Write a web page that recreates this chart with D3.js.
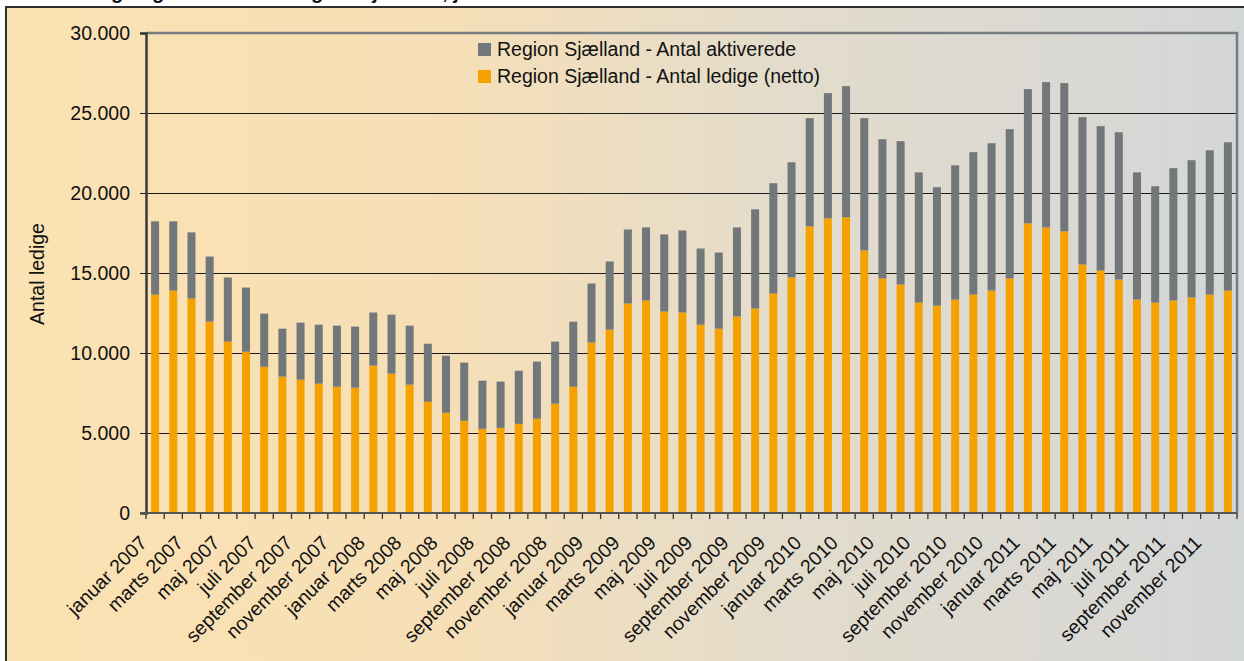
<!DOCTYPE html>
<html>
<head>
<meta charset="utf-8">
<script src="https://cdn.jsdelivr.net/npm/d3@7"></script>
<style>
body { margin: 0; background: #fff; }
text { font-family: "Liberation Sans", Arial, sans-serif; fill: #111; }
</style>
</head>
<body>
<svg id="chart" width="1244" height="661"></svg>
<script>
// data
var months = ["januar", "februar", "marts", "april", "maj", "juni", "juli", "august", "september", "oktober", "november", "december"];
var years = [2007, 2008, 2009, 2010, 2011];

var ledige = [13650, 13900, 13400, 11960, 10710, 10080, 9140, 8520, 8330, 8080, 7890, 7830,
              9210, 8710, 8020, 6950, 6260, 5760, 5260, 5320, 5570, 5890, 6830, 7890,
              10650, 11460, 13090, 13280, 12590, 12530, 11770, 11520, 12280, 12780, 13720, 14720,
              17910, 18410, 18480, 16410, 14660, 14280, 13150, 12960, 13340, 13650, 13900, 14660,
              18100, 17850, 17600, 15530, 15160, 14590, 13340, 13150, 13280, 13470, 13650, 13900];
var aktiverede = [4580, 4330, 4140, 4070, 4010, 4010, 3320, 3000, 3570, 3690, 3820, 3820,
                  3320, 3690, 3690, 3630, 3570, 3640, 3010, 2890, 3320, 3570, 3880, 4070,
                  3690, 4260, 4630, 4570, 4820, 5130, 4760, 4760, 5570, 6200, 6890, 7200,
                  6770, 7830, 8200, 8270, 8700, 8960, 8140, 7400, 8390, 8900, 9210, 9330,
                  8390, 9080, 9270, 9210, 9020, 9210, 7950, 7270, 8270, 8580, 9020, 9270];

var yTicks = [0, 5000, 10000, 15000, 20000, 25000, 30000];
var seriesNames = ["Region Sjælland - Antal aktiverede", "Region Sjælland - Antal ledige (netto)"];
var colors = ["#72777a", "#f5a200"];
var yTitle = "Antal ledige";
var title = "Antal ledige og aktiverede i Region Sjælland, januar 2007 - december 2011";

var categories = [];
years.forEach(function(y) {
    months.forEach(function(m) { categories.push(m + " " + y); });
});

var rows = categories.map(function(c, i) {
    return { cat: c, ledige: ledige[i], aktiverede: aktiverede[i] };
});

var svg = d3.select("#chart");
var plotLeft = 146, plotRight = 1237, plotTop = 33, plotBottom = 513;

// background gradient
var defs = svg.append("defs");
var grad = defs.append("linearGradient").attr("id", "bg")
    .attr("x1", "0").attr("x2", "1").attr("y1", "0").attr("y2", "0");
grad.append("stop").attr("offset", "0").attr("stop-color", "#fbe2b2");
grad.append("stop").attr("offset", "0.35").attr("stop-color", "#f6dfb7");
grad.append("stop").attr("offset", "0.62").attr("stop-color", "#e3dccc");
grad.append("stop").attr("offset", "1").attr("stop-color", "#d3d6d8");

// title (cut off at the top as in the source)
svg.append("text")
    .attr("x", 21).attr("y", -1)
    .attr("font-size", 20).attr("font-weight", "bold")
    .text(title);

svg.append("rect")
    .attr("x", 6).attr("y", 7)
    .attr("width", 1260).attr("height", 680)
    .attr("fill", "url(#bg)")
    .attr("stroke", "#2e2e2e").attr("stroke-width", 2);

var x = d3.scaleBand()
    .domain(categories)
    .range([plotLeft, plotRight])
    .paddingInner(0.56)
    .paddingOuter(0.28);

var y = d3.scaleLinear()
    .domain([0, 30000])
    .range([plotBottom, plotTop]);

var fmt = d3.formatLocale({ decimal: ",", thousands: ".", grouping: [3], currency: ["", " kr"] }).format(",");

// gridlines
svg.append("g")
    .attr("shape-rendering", "crispEdges")
    .selectAll("line")
    .data(yTicks.filter(function(d) { return d > 0 && d < 30000; }))
    .enter().append("line")
    .attr("x1", plotLeft).attr("x2", plotRight)
    .attr("y1", function(d) { return Math.round(y(d)) + 0.5; })
    .attr("y2", function(d) { return Math.round(y(d)) + 0.5; })
    .attr("stroke", "#1a1a1a").attr("stroke-width", 1);

// plot area border (top and right)
svg.append("path")
    .attr("d", "M" + plotLeft + "," + y(30000) + "H" + plotRight + "V" + plotBottom)
    .attr("fill", "none")
    .attr("stroke", "#777c80").attr("stroke-width", 2.5);

// stacked bars
var stack = d3.stack().keys(["ledige", "aktiverede"]);
var series = stack(rows);

svg.append("g")
    .selectAll("g")
    .data(series)
    .enter().append("g")
    .attr("fill", function(d) { return d.key == "ledige" ? colors[1] : colors[0]; })
    .selectAll("rect")
    .data(function(d) { return d; })
    .enter().append("rect")
    .attr("x", function(d) { return x(d.data.cat); })
    .attr("width", x.bandwidth())
    .attr("y", function(d) { return y(d[1]); })
    .attr("height", function(d) { return y(d[0]) - y(d[1]); });

// y axis
var yAxis = svg.append("g")
    .attr("transform", "translate(" + plotLeft + ",0)")
    .call(d3.axisLeft(y).tickValues(yTicks).tickSize(6).tickPadding(10).tickFormat(fmt));
yAxis.select(".domain").attr("stroke", "#3a3a3a").attr("stroke-width", 2.5);
yAxis.selectAll(".tick line").attr("stroke", "#222");
yAxis.selectAll(".tick text")
    .attr("font-size", 19.5)
    .attr("fill", "#111")
    .style("font-family", "'Liberation Sans', Arial, sans-serif");

// x axis line and ticks at category boundaries
var gap = (x.step() - x.bandwidth()) / 2;
var bounds = categories.map(function(c) { return x(c) - gap; });
bounds.push(plotRight);

var xg = svg.append("g");
xg.selectAll("line.tk")
    .data(bounds)
    .enter().append("line")
    .attr("class", "tk")
    .attr("x1", function(d) { return d; }).attr("x2", function(d) { return d; })
    .attr("y1", plotBottom).attr("y2", plotBottom + 6)
    .attr("stroke", "#333").attr("stroke-width", 1.3);
xg.append("line")
    .attr("x1", plotLeft - 6).attr("x2", plotRight)
    .attr("y1", plotBottom).attr("y2", plotBottom)
    .attr("stroke", "#555").attr("stroke-width", 2);

// x labels, every second month
xg.selectAll("text")
    .data(categories.filter(function(c, i) { return i % 2 == 0; }))
    .enter().append("text")
    .attr("transform", function(d) {
        return "translate(" + (x(d) + x.bandwidth() / 2 - 7) + "," + (plotBottom + 31) + ") rotate(-45)";
    })
    .attr("text-anchor", "end")
    .attr("font-size", 19.5)
    .text(function(d) { return d; });

// y axis title
svg.append("text")
    .attr("transform", "translate(44,274) rotate(-90)")
    .attr("text-anchor", "middle")
    .attr("font-size", 19.5)
    .text(yTitle);

// legend
var legend = svg.append("g").attr("transform", "translate(478,43)");
seriesNames.forEach(function(name, i) {
    legend.append("rect")
        .attr("x", 0).attr("y", i * 27)
        .attr("width", 13).attr("height", 13)
        .attr("fill", colors[i]);
    legend.append("text")
        .attr("x", 19).attr("y", i * 27 + 13)
        .attr("font-size", 19.5)
        .text(name);
});
</script>
</body>
</html>
